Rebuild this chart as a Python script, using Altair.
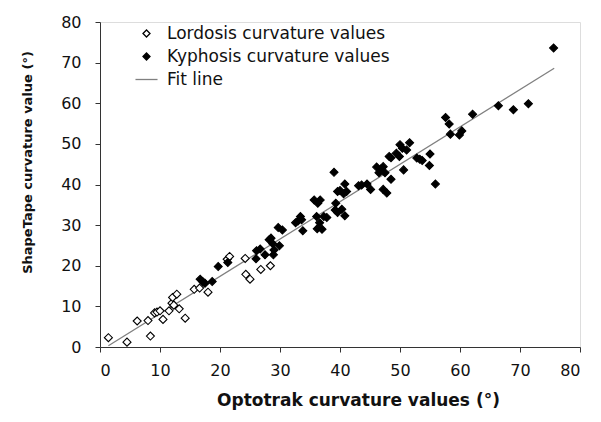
import altair as alt
import pandas as pd

# ---- data ----
lord_x = [1.4, 4.5, 6.2, 8.0, 8.4, 9.1, 9.5, 10.0, 10.5, 11.5, 12.0, 12.3, 12.1, 12.8,
          13.2, 14.2, 15.7, 16.6, 18.0, 21.2, 21.6, 24.2, 24.3, 25.0, 26.8, 28.4]
lord_y = [2.3, 1.2, 6.4, 6.5, 2.7, 8.4, 8.6, 8.9, 6.8, 8.9, 10.8, 10.3, 12.2, 13.0,
          9.4, 7.1, 14.2, 14.5, 13.5, 21.6, 22.3, 21.8, 17.9, 16.7, 19.1, 20.0]

kyph_x = [16.7, 17.1, 17.5, 18.7, 19.7, 21.3, 26.0, 26.1, 26.7, 27.5, 28.2, 28.5, 28.8,
          28.9, 29.0, 29.7, 30.4, 29.9, 32.6, 33.0, 33.4, 33.6, 33.8, 35.7, 36.3, 36.7,
          36.1, 36.6, 37.3, 37.8, 36.2, 37.0, 39.0, 39.3, 39.6, 40.0, 40.8, 41.1, 40.6,
          39.2, 39.6, 40.3, 40.8, 43.1, 43.6, 44.5, 45.1, 46.1, 46.8, 47.2, 46.5, 47.5,
          48.5, 47.2, 47.8, 48.2, 48.5, 49.4, 49.9, 50.0, 51.6, 50.4, 51.1, 50.6, 52.8,
          53.3, 53.7, 55.0, 54.9, 55.9, 57.6, 58.2, 58.4, 59.9, 60.3, 62.1, 66.4, 68.9,
          71.4, 75.6]
kyph_y = [16.7, 16.1, 15.7, 16.1, 19.8, 20.8, 21.7, 23.7, 24.1, 22.7, 26.4, 26.8, 25.4,
          22.7, 23.9, 29.4, 28.8, 24.9, 30.6, 31.0, 32.1, 31.3, 28.6, 36.2, 35.4, 36.2,
          32.1, 30.6, 32.1, 31.9, 29.1, 29.0, 43.0, 35.4, 38.3, 38.5, 40.1, 38.3, 37.7,
          33.7, 33.1, 33.9, 32.3, 39.7, 39.9, 40.1, 38.8, 44.3, 43.8, 44.4, 42.9, 42.9,
          41.3, 38.8, 37.9, 46.9, 46.6, 47.7, 46.9, 49.8, 50.3, 48.9, 48.5, 43.6, 46.5,
          46.2, 45.9, 47.5, 44.7, 40.1, 56.5, 54.9, 52.4, 52.2, 53.2, 57.3, 59.4, 58.4,
          59.9, 73.6]

fit_x = [1.4, 75.7]
fit_y = [0.3, 68.6]

series_names = ["Lordosis curvature values", "Kyphosis curvature values", "Fit line"]
axis_ticks = [0, 10, 20, 30, 40, 50, 60, 70, 80]

pts = pd.DataFrame({
    "x": lord_x + kyph_x,
    "y": lord_y + kyph_y,
    "series": [series_names[0]] * len(lord_x) + [series_names[1]] * len(kyph_x),
})
fit = pd.DataFrame({"x": fit_x, "y": fit_y, "series": [series_names[2]] * len(fit_x)})

FONT = "DejaVu Sans"
DIAMOND = "M-1,0L0,-1L1,0L0,1Z"
DASH = "M-3.15,0L3.15,0"

x_enc = alt.X("x:Q", scale=alt.Scale(domain=[0, 80], nice=False, zero=False),
              axis=alt.Axis(values=axis_ticks, grid=False, domainColor="#333", tickColor="#333",
                            tickSize=5, labelFont=FONT, labelFontSize=16, labelColor="#111",
                            labelPadding=10, title="Optotrak curvature values (°)",
                            titleFont=FONT, titleFontSize=17, titleFontWeight="bold",
                            titleColor="#111", titleX=258, titleY=58,
                            titleBaseline="alphabetic", titleAlign="center"))
y_enc = alt.Y("y:Q", scale=alt.Scale(domain=[0, 80], nice=False, zero=False),
              axis=alt.Axis(values=axis_ticks, grid=False, domainColor="#333", tickColor="#333",
                            tickSize=5, labelFont=FONT, labelFontSize=16, labelColor="#111",
                            labelPadding=14, title="ShapeTape curvature value (°)",
                            titleFont=FONT, titleFontSize=13, titleFontWeight="bold",
                            titleColor="#111", titleAngle=270, titleX=-69, titleY=140,
                            titleBaseline="alphabetic", titleAlign="center"))

legend = alt.Legend(
    title=None, orient="none", legendX=38, legendY=3, padding=0,
    labelFont=FONT, labelFontSize=17, labelColor="#111", labelOffset=12,
    labelLimit=0, symbolStrokeWidth=1.3, rowPadding=5, symbolSize=49,
)

shape_enc = alt.Shape("series:N", scale=alt.Scale(domain=series_names,
                      range=[DIAMOND, DIAMOND, DASH]), legend=legend)
fill_enc = alt.Fill("series:N", scale=alt.Scale(domain=series_names,
                    range=["white", "black", "transparent"]), legend=legend)
stroke_enc = alt.Stroke("series:N", scale=alt.Scale(domain=series_names,
                        range=["black", "black", "#808080"]), legend=legend)

line = alt.Chart(fit).mark_line(strokeWidth=1.3).encode(x=x_enc, y=y_enc, stroke=stroke_enc)
points = alt.Chart(pts).mark_point(opacity=1, strokeWidth=1.1, size=64).encode(
    x=x_enc, y=y_enc, shape=shape_enc, fill=fill_enc, stroke=stroke_enc)

chart = alt.layer(line, points).properties(
    width=480, height=325, autosize="none",
    padding={"left": 92, "top": 14, "right": 13, "bottom": 67},
).configure_view(strokeWidth=0).configure(background="white")

chart.save("out.html", embed_options={"renderer": "svg", "actions": False})
